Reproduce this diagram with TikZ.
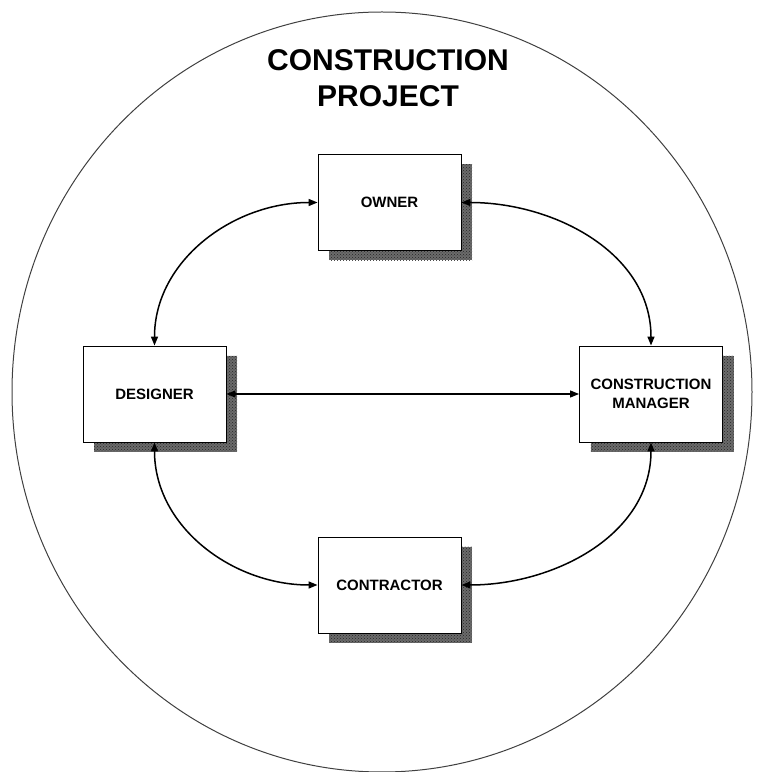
\documentclass[tikz,border=0pt]{standalone}
\usepackage{fontspec}
\setmainfont{Liberation Sans}
\usetikzlibrary{arrows.meta,shadows,patterns}
\begin{document}
\begin{tikzpicture}[x=1pt,y=1pt,
  party/.style={draw=black, line width=0.9pt, fill=white,
    minimum width=143pt, minimum height=96pt, inner sep=0pt,
    align=center, font=\fontsize{15}{19}\selectfont\bfseries,
    drop shadow={shadow xshift=11pt, shadow yshift=-10pt,
      fill=black!58, opacity=1,
      postaction={pattern=crosshatch dots, pattern color=black!85}}},
  link/.style={line width=1.5pt, {Triangle[length=9pt,width=7pt]}-{Triangle[length=9pt,width=7pt]}},
  title/.style={align=center, font=\fontsize{30}{36}\selectfont\bfseries}]
  \useasboundingbox (0,0) rectangle (757,772);

  % project boundary
  \draw[line width=1pt, black!75] (382,380) ellipse [x radius=370, y radius=380];

  \node[title] (title) at (388,693.5) {CONSTRUCTION\\PROJECT};

  % parties
  \node[party] (owner)      at (389.5,569.5) {OWNER};
  \node[party] (designer)   at (154.5,378)   {DESIGNER};
  \node[party] (manager)    at (651,378)     {CONSTRUCTION\\MANAGER};
  \node[party] (contractor) at (389.5,187)   {CONTRACTOR};

  % relationships
  \draw[link] (owner.west) to[out=180,in=90] (designer.north);
  \draw[link] (owner.east) to[out=0,in=90] (manager.north);
  \draw[link] (designer.south) to[out=-90,in=180] (contractor.west);
  \draw[link] (manager.south) to[out=-90,in=0] (contractor.east);
  \draw[link, line width=1.2pt] (designer.east) -- (manager.west);
\end{tikzpicture}
\end{document}
